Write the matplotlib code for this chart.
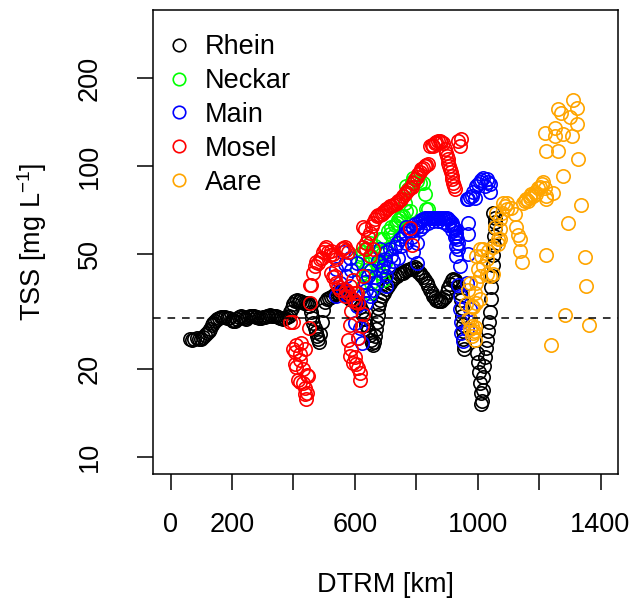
import matplotlib.pyplot as plt
from matplotlib.lines import Line2D

plt.rcParams['font.family'] = ['Liberation Sans', 'DejaVu Sans']
plt.rcParams['mathtext.fontset'] = 'custom'
plt.rcParams['mathtext.rm'] = 'Liberation Sans'
plt.rcParams['mathtext.it'] = 'Liberation Sans:italic'

# (DTRM km, TSS mg/L)
rhein = [(63, 25.5), (70, 25.3), (78, 25.5), (85, 25.6), (92, 25.4), (99, 25.5), (106, 25.8), (112, 26.2),
         (118, 26.6), (124, 27.0), (129, 27.6), (134, 28.3), (139, 28.9), (144, 29.4), (150, 29.8), (157, 30.1),
         (164, 30.2), (171, 30.3), (178, 30.2), (185, 30.1), (192, 30.0), (199, 29.6), (205, 29.2), (211, 29.2),
         (217, 29.8), (223, 30.3), (229, 30.4), (235, 30.3), (241, 30.1), (247, 29.8), (253, 30.2), (259, 30.5),
         (265, 30.5), (271, 30.4), (277, 30.3), (283, 30.2), (289, 30.1), (295, 30.1), (301, 30.2), (307, 30.3),
         (313, 30.4), (319, 30.6), (325, 30.7), (331, 30.6), (337, 30.5), (343, 30.4), (349, 30.3), (355, 30.1),
         (361, 29.9), (367, 29.7), (373, 29.9), (379, 30.2), (385, 30.6), (390, 31.4), (395, 32.6), (400, 33.6),
         (405, 34.2), (411, 34.5), (417, 34.4), (423, 34.2), (429, 34.0), (435, 33.9), (441, 33.9), (447, 33.8),
         (452, 33.0), (457, 31.5), (461, 30.0), (465, 28.8), (469, 27.7), (473, 26.8), (477, 26.0), (481, 25.4),
         (485, 24.9), (488, 26.5), (492, 29.0), (497, 32.0), (503, 34.0), (509, 35.0), (515, 35.2), (522, 35.5),
         (528, 35.8), (535, 36.2), (541, 36.7), (548, 37.2), (555, 37.6), (562, 37.0), (569, 36.2), (576, 35.6),
         (583, 35.0), (590, 34.6), (597, 34.2), (604, 33.9), (611, 33.6), (617, 32.8), (623, 31.8), (628, 30.7),
         (633, 29.7), (638, 28.5), (643, 27.3), (648, 26.2), (652, 25.3), (656, 24.6), (660, 24.3), (664, 24.8),
         (667, 26.0), (670, 27.5), (672, 29.0), (674, 30.8), (676, 32.4), (679, 33.6), (683, 34.6), (689, 35.6),
         (695, 36.6), (702, 37.8), (708, 38.7), (714, 39.5), (721, 40.4), (728, 41.1), (736, 41.8), (744, 42.4),
         (751, 42.8), (757, 43.0), (764, 43.4), (771, 43.8), (779, 44.1), (787, 44.7), (795, 45.1), (801, 44.2),
         (806, 43.3), (812, 42.8), (817, 42.2), (823, 41.4), (828, 40.6), (834, 39.6), (839, 38.6), (845, 37.5),
         (850, 36.6), (856, 35.7), (861, 35.1), (866, 34.7), (872, 34.4), (877, 34.2), (882, 34.3), (888, 35.0),
         (893, 35.5), (899, 36.8), (904, 38.0), (909, 39.3), (915, 40.5), (920, 40.9), (926, 40.6), (931, 39.8),
         (936, 38.5), (941, 36.5), (945, 34.5), (948, 32.5), (950, 30.5), (951, 28.5), (952, 27.0), (953, 25.5),
         (954, 24.2), (955, 23.4), (997, 22.8), (1001, 21.2), (1004, 19.5), (1007, 17.9), (1010, 16.6),
         (1012, 15.2), (1014, 15.6), (1016, 17.0), (1018, 18.8), (1021, 20.5), (1024, 22.0), (1027, 23.6),
         (1030, 25.2), (1033, 27.0), (1036, 29.0), (1039, 31.5), (1042, 35.0), (1045, 38.5), (1047, 42.0),
         (1049, 45.5), (1050, 49.5), (1052, 53.5), (1054, 57.5), (1056, 61.0), (1058, 64.0), (1055, 66.5),
         (1050, 69.0)]

neckar = [(606, 44.1), (616, 49.7), (622, 47.0), (627, 50.5), (627, 38.7), (633, 51.7), (633, 44.0), (638, 41.8),
          (643, 46.0), (649, 54.5), (649, 36.6), (654, 49.0), (654, 39.7), (660, 50.5), (665, 53.0), (671, 46.4),
          (676, 44.5), (681, 55.9), (681, 43.0), (687, 50.0), (692, 55.9), (692, 40.7), (698, 46.4), (703, 52.0),
          (708, 59.7), (714, 58.2), (719, 61.6), (725, 57.4), (730, 62.5), (736, 63.8), (741, 65.0), (746, 66.0),
          (752, 67.3), (757, 67.3), (763, 74.8), (768, 85.2), (768, 70.0), (774, 83.1), (779, 70.0), (785, 88.0),
          (790, 91.2), (790, 88.4), (801, 89.0), (812, 87.6), (822, 87.6), (828, 79.9), (833, 70.9), (839, 70.9)]

main = [(540, 44.1), (540, 35.7), (551, 39.7), (562, 50.5), (562, 37.6), (567, 46.0), (573, 42.0), (578, 35.7),
        (584, 48.3), (589, 44.0), (600, 28.9), (606, 46.4), (606, 33.0), (611, 25.7), (616, 27.8), (622, 24.7),
        (627, 36.0), (633, 40.0), (638, 37.6), (638, 33.9), (643, 42.0), (649, 35.7), (654, 44.0), (660, 37.6),
        (665, 41.5), (671, 39.7), (676, 47.0), (681, 51.7), (687, 44.0), (692, 45.2), (698, 48.0), (703, 50.5),
        (703, 41.8), (703, 38.7), (708, 45.0), (714, 52.0), (719, 49.0), (725, 47.0), (730, 52.5), (736, 54.5),
        (741, 48.3), (746, 56.0), (752, 53.0), (757, 57.5), (763, 59.0), (768, 61.6), (768, 54.5), (774, 60.0),
        (779, 59.8), (785, 57.0), (790, 61.3), (790, 50.5), (795, 63.0), (801, 61.6), (801, 54.5), (801, 46.4),
        (806, 63.5), (812, 64.3), (817, 65.0), (822, 65.5), (828, 66.0), (833, 66.4), (839, 66.4), (844, 66.4),
        (850, 66.4), (855, 66.4), (860, 66.4), (866, 66.4), (871, 66.4), (877, 66.4), (882, 66.4), (888, 66.4),
        (893, 66.2), (899, 66.0), (904, 65.5), (909, 64.6), (915, 63.8), (917, 62.5), (920, 61.6), (923, 61.0),
        (926, 60.5), (928, 59.0), (931, 57.4), (934, 56.0), (936, 54.5), (936, 51.7), (931, 49.0), (942, 45.2),
        (812, 60.5), (822, 62.0), (839, 63.5), (855, 64.5), (871, 64.8), (888, 64.0), (904, 62.5), (915, 60.0),
        (926, 57.0), (931, 53.0),
        (969, 63.8), (969, 58.2), (969, 49.7), (936, 39.1), (942, 35.7), (964, 39.7), (942, 32.1), (974, 32.1),
        (947, 29.0), (964, 27.4), (947, 26.7), (953, 25.0),
        (964, 76.8), (969, 76.8), (975, 78.0), (980, 78.6), (985, 81.5), (991, 77.8), (996, 85.2), (1001, 86.5),
        (1007, 88.4), (1012, 89.5), (1018, 90.7), (1023, 85.2), (1029, 90.0), (1034, 88.0), (1040, 86.5),
        (1040, 81.5)]

mosel = [(388, 29.1), (399, 29.0), (453, 33.9), (451, 27.8), (453, 39.1),
         (399, 23.4), (405, 22.9), (410, 24.3), (426, 24.7), (437, 23.4), (421, 22.5), (405, 20.8), (410, 20.3),
         (421, 21.6), (432, 20.0), (443, 19.1), (447, 18.9), (415, 18.4), (421, 18.1), (432, 17.9), (437, 17.3),
         (443, 16.6), (437, 16.5), (440, 15.8),
         (459, 39.1), (464, 43.0), (470, 45.2), (475, 46.8), (481, 46.4), (486, 47.8), (492, 48.3), (497, 50.5),
         (502, 51.7), (507, 52.7), (513, 50.5), (518, 49.5), (524, 51.1), (529, 49.7), (535, 48.5), (540, 47.7),
         (524, 43.0), (529, 41.5), (535, 41.8), (540, 39.7), (545, 38.5), (551, 37.6), (557, 51.7), (562, 52.4),
         (567, 52.8), (573, 51.5), (578, 50.5), (567, 35.7), (573, 37.5), (578, 36.5), (584, 38.7), (594, 40.4),
         (600, 36.6), (606, 36.6), (594, 34.8), (600, 34.0), (611, 33.7), (627, 41.8), (589, 31.8), (627, 30.9),
         (584, 28.5), (622, 28.2), (578, 25.3), (611, 25.7), (589, 23.4), (584, 22.2), (600, 22.0), (594, 21.0),
         (605, 20.8), (611, 20.2), (616, 19.4), (616, 18.4),
         (627, 52.8), (633, 60.5), (627, 61.6), (638, 54.5), (638, 51.7), (643, 57.0), (649, 59.0), (649, 49.0),
         (655, 62.0), (660, 63.8), (660, 51.7), (665, 65.5), (671, 67.3), (676, 68.0), (681, 68.0), (687, 68.2),
         (692, 69.5), (698, 70.2), (703, 70.9), (708, 71.8), (714, 72.8), (719, 73.0), (725, 73.5), (730, 73.8),
         (736, 74.5), (741, 75.6), (746, 76.2), (752, 76.8), (757, 78.6), (763, 80.0), (768, 81.5), (774, 83.0),
         (779, 84.2), (785, 84.8), (790, 87.5), (795, 90.0), (801, 91.8), (806, 93.6), (812, 95.5), (817, 97.4),
         (822, 98.5), (828, 100.0), (833, 100.8), (839, 101.3),
         (779, 61.3), (785, 53.6),
         (844, 117.2), (850, 118.5), (855, 117.2), (860, 120.3), (866, 121.0), (871, 122.0), (877, 121.7),
         (882, 120.8), (888, 120.3), (893, 114.1), (896, 111.0), (899, 108.3), (902, 105.5), (904, 102.6),
         (907, 100.0), (909, 97.4), (912, 95.0), (915, 92.4), (917, 90.0), (920, 87.6), (923, 85.3), (926, 83.1),
         (936, 122.0), (942, 117.2), (947, 123.6)]

aare = [(962, 33.6), (969, 29.7), (974, 27.4), (985, 26.7), (980, 28.2), (991, 25.3), (982, 26.0), (974, 29.7),
        (980, 33.0), (996, 33.9), (991, 36.6), (969, 37.6), (974, 39.7), (996, 39.7), (1007, 41.8), (1001, 44.1),
        (1018, 45.2), (1029, 42.4), (1040, 41.8), (1050, 42.4), (1012, 49.0), (1018, 51.7), (1034, 51.1),
        (1029, 47.7), (1007, 51.7), (996, 49.0), (1007, 34.8), (985, 32.8), (991, 28.0), (987, 27.0),
        (1050, 52.8), (1056, 61.6), (1061, 69.0), (1067, 55.9), (1067, 53.8), (1072, 55.9), (1072, 60.5),
        (1072, 65.5), (1078, 69.0), (1083, 74.8), (1088, 72.8), (1094, 74.8), (1094, 70.9), (1110, 71.9),
        (1121, 68.2), (1126, 61.6), (1132, 58.0), (1137, 55.9), (1137, 51.1), (1143, 46.6), (1148, 74.8),
        (1153, 75.6), (1159, 77.0), (1164, 76.0), (1170, 78.6), (1170, 77.6), (1175, 80.0), (1180, 79.0),
        (1186, 81.5), (1191, 80.0), (1197, 83.7), (1202, 85.0), (1208, 86.5), (1213, 88.4), (1219, 84.0),
        (1224, 78.6), (1224, 76.8), (1246, 80.8),
        (1224, 49.4), (1238, 24.2), (1311, 168.0), (1322, 158.8), (1262, 156.8), (1273, 152.0), (1300, 147.0),
        (1322, 139.0), (1251, 135.5), (1219, 130.0), (1251, 126.5), (1278, 128.5), (1306, 126.5), (1224, 112.3),
        (1262, 112.3), (1327, 105.8), (1278, 92.5), (1338, 73.3), (1294, 63.9), (1349, 48.6), (1354, 38.7),
        (1284, 30.7), (1363, 28.4)]

rivers = ["Rhein", "Neckar", "Main", "Mosel", "Aare"]
farben = ["black", "#00FF00", "#0000FF", "#FF0000", "#FFA500"]

fig = plt.figure(figsize=(6.32, 6.04), dpi=100)
ax = fig.add_axes([153.3 / 632, 130 / 604, 464.4 / 632, 464 / 604])

for data, farbe in zip([rhein, neckar, main, mosel, aare], farben):
    x = [p[0] for p in data]
    y = [p[1] for p in data]
    ax.plot(x, y, 'o', ms=9.6, mfc='none', mec=farbe, mew=1.2, ls='none')

ax.axhline(30, color='black', lw=1.1, dashes=(5, 4.5))

ax.set_yscale('log')
ax.set_xlim(-56, 1456)
ax.set_ylim(8.727, 343.8)
ax.set_xticks([0, 200, 400, 600, 800, 1000, 1200, 1400])
ax.set_xticklabels(['0', '200', '', '600', '', '1000', '', '1400'])
ax.set_yticks([10, 20, 50, 100, 200])
ax.set_yticklabels(['10', '20', '50', '100', '200'], rotation=90, va='center')
ax.minorticks_off()
ax.tick_params(direction='out', length=11.5, width=1.1, labelsize=19.5)
ax.tick_params(axis='x', pad=16)
ax.tick_params(axis='y', pad=25)
for s in ax.spines.values():
    s.set_linewidth(1.1)

ax.set_xlabel('DTRM [km]', fontsize=19.5)
ax.set_ylabel('TSS [mg L$^{-1}$]', fontsize=19.5)
ax.xaxis.set_label_coords(0.5, -0.212)
ax.yaxis.set_label_coords(-0.225, 0.5)

handles = [Line2D([], [], marker='o', ms=9, mfc='none', mec=f, mew=1.2, ls='none') for f in farben]
ax.legend(handles, rivers, loc='upper left', bbox_to_anchor=(0.026, 0.948), frameon=False,
          fontsize=19.5, handlelength=1.0, handletextpad=0.46, labelspacing=0.29,
          borderpad=0, borderaxespad=0)

fig.savefig('out.png', dpi=100)
